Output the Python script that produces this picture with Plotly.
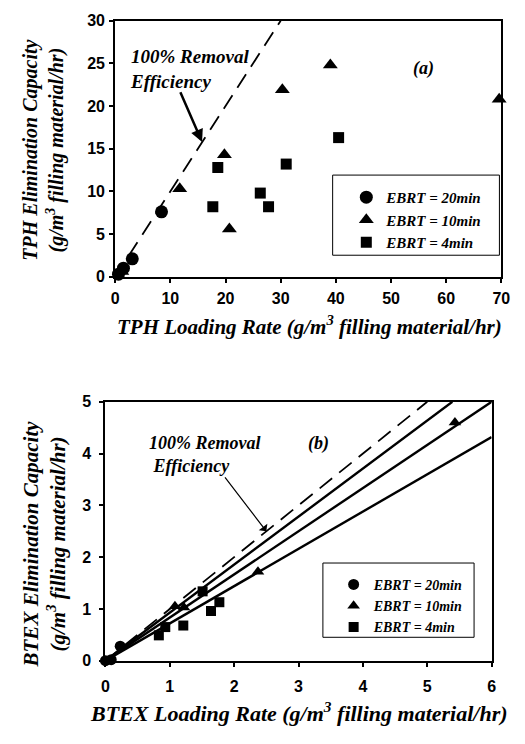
import plotly.graph_objects as go

W, H = 525, 744

# ---------------- Data: panel (a) TPH ----------------
tph20_x = [0.6, 1.5, 3.1, 8.4]
tph20_y = [0.3, 1.0, 2.1, 7.6]
tph10_x = [1.2, 11.7, 19.8, 20.7, 30.3, 39.0, 69.6]
tph10_y = [0.6, 10.3, 14.3, 5.6, 21.9, 24.8, 20.8]
tph4_x = [17.7, 18.6, 26.3, 27.8, 31.0, 40.5]
tph4_y = [8.2, 12.8, 9.8, 8.2, 13.2, 16.3]
tph_ideal_x = [0, 30]
tph_ideal_y = [0, 30]

# ---------------- Data: panel (b) BTEX ----------------
btex20_x = [0.0, 0.09, 0.23]
btex20_y = [0.0, 0.02, 0.28]
btex10_x = [1.08, 1.22, 2.37, 5.43]
btex10_y = [1.05, 1.03, 1.72, 4.6]
btex4_x = [0.83, 0.93, 1.21, 1.51, 1.64, 1.77]
btex4_y = [0.49, 0.65, 0.68, 1.34, 0.96, 1.13]
btex_ideal_x = [0, 5]
btex_ideal_y = [0, 5]
btex_fit20_x = [0, 5.39]
btex_fit20_y = [0, 5.0]
btex_fit10_x = [0, 6.0]
btex_fit10_y = [0, 5.0]
btex_fit4_x = [0, 6.0]
btex_fit4_y = [0, 4.32]

legend_labels = ["EBRT = 20min", "EBRT = 10min", "EBRT = 4min"]
tph_xticks = [0, 10, 20, 30, 40, 50, 60, 70]
tph_yticks = [0, 5, 10, 15, 20, 25, 30]
btex_xticks = [0, 1, 2, 3, 4, 5, 6]
btex_yticks = [0, 1, 2, 3, 4, 5]

serif = "Liberation Serif, Times New Roman, serif"
sans = "Liberation Sans, Arial, sans-serif"

fig = go.Figure()

def px(p):
    return p / W

def py(p):
    return 1 - p / H

# panel (a)
fig.add_trace(go.Scatter(x=tph_ideal_x, y=tph_ideal_y, mode="lines",
                         line=dict(color="black", width=1.8, dash="16px,9px"),
                         showlegend=False, xaxis="x", yaxis="y"))
symbols = ["circle", "triangle-up", "square"]
for (xs, ys), sym, lab in zip([(tph20_x, tph20_y), (tph10_x, tph10_y), (tph4_x, tph4_y)], symbols, legend_labels):
    fig.add_trace(go.Scatter(x=xs, y=ys, mode="markers", name=lab,
                             marker=dict(symbol=sym, color="black", size=13 if sym != "square" else 11),
                             cliponaxis=False, xaxis="x", yaxis="y", legend="legend"))

# panel (b)
fig.add_trace(go.Scatter(x=btex_ideal_x, y=btex_ideal_y, mode="lines",
                         line=dict(color="black", width=1.8, dash="16px,9px"),
                         showlegend=False, xaxis="x2", yaxis="y2"))
for fx, fy in [(btex_fit20_x, btex_fit20_y), (btex_fit10_x, btex_fit10_y), (btex_fit4_x, btex_fit4_y)]:
    fig.add_trace(go.Scatter(x=fx, y=fy, mode="lines", line=dict(color="black", width=2.4),
                             showlegend=False, xaxis="x2", yaxis="y2"))
for (xs, ys), sym, lab in zip([(btex20_x, btex20_y), (btex10_x, btex10_y), (btex4_x, btex4_y)], symbols, legend_labels):
    fig.add_trace(go.Scatter(x=xs, y=ys, mode="markers", name=lab,
                             marker=dict(symbol=sym, color="black", size=11 if sym != "square" else 10),
                             cliponaxis=False, xaxis="x2", yaxis="y2", legend="legend2"))

def axis_common(standoff):
    return dict(showline=True, linecolor="black", linewidth=2, mirror=True,
                ticks="outside", ticklen=4, tickwidth=1.5, tickcolor="black",
                showgrid=False, zeroline=False, ticklabelstandoff=standoff,
                tickfont=dict(family=sans, size=16, color="black", weight="bold"))

fig.update_layout(
    width=W, height=H,
    margin=dict(l=0, r=0, t=0, b=0),
    paper_bgcolor="white", plot_bgcolor="white",
    xaxis=dict(domain=[px(114), px(510)], range=[0, 70], tickvals=tph_xticks, anchor="y", **axis_common(2)),
    yaxis=dict(domain=[py(275), py(13)], range=[0, 30], tickvals=tph_yticks, anchor="x", **axis_common(1)),
    xaxis2=dict(domain=[px(104), px(500)], range=[0, 6], tickvals=btex_xticks, anchor="y2", **axis_common(6)),
    yaxis2=dict(domain=[py(668), py(403)], range=[0, 5], tickvals=btex_yticks, anchor="x2", **axis_common(5)),
    legend=dict(x=px(351), y=py(177), xanchor="left", yanchor="top", bgcolor="rgba(0,0,0,0)",
                font=dict(family=serif, size=15, color="black", style="italic", weight="bold"),
                itemwidth=30, tracegroupgap=0),
    legend2=dict(x=px(338), y=py(574), xanchor="left", yanchor="top", bgcolor="rgba(0,0,0,0)",
                 font=dict(family=serif, size=14, color="black", style="italic", weight="bold"),
                 itemwidth=30, tracegroupgap=0),
    shapes=[
        dict(type="rect", xref="paper", yref="paper", x0=px(337), x1=px(508), y0=py(253), y1=py(171),
             line=dict(color="black", width=1)),
        dict(type="rect", xref="paper", yref="paper", x0=px(327), x1=px(482), y0=py(644), y1=py(568),
             line=dict(color="black", width=1)),
    ],
)

title_font = dict(family=serif, size=21, color="black", style="italic", weight="bold")
ytitle_font = dict(family=serif, size=20, color="black", style="italic", weight="bold")
ann_font = dict(family=serif, size=19, color="black", style="italic", weight="bold")

annotations = [
    # axis titles
    dict(xref="paper", yref="paper", x=px(313), y=py(325), text="TPH Loading Rate (g/m<sup>3</sup> filling material/hr)",
         showarrow=False, font=title_font, xanchor="center", yanchor="middle"),
    dict(xref="paper", yref="paper", x=px(41), y=py(145), text="TPH Elimination Capacity<br>(g/m<sup>3</sup> filling material/hr)",
         showarrow=False, font=ytitle_font, textangle=-90, xanchor="center", yanchor="middle"),
    dict(xref="paper", yref="paper", x=px(303), y=py(720), text="BTEX Loading Rate (g/m<sup>3</sup> filling material/hr)",
         showarrow=False, font=dict(title_font, size=22), xanchor="center", yanchor="middle"),
    dict(xref="paper", yref="paper", x=px(41), y=py(548), text="BTEX Elimination Capacity<br>(g/m<sup>3</sup> filling material/hr)",
         showarrow=False, font=dict(ytitle_font, size=21), textangle=-90, xanchor="center", yanchor="middle"),
    # panel labels
    dict(xref="x", yref="y", x=55.9, y=24.4, text="(a)", showarrow=False,
         font=dict(family=serif, size=18, color="black", style="italic", weight="bold")),
    dict(xref="x2", yref="y2", x=3.31, y=4.19, text="(b)", showarrow=False,
         font=dict(family=serif, size=18, color="black", style="italic", weight="bold")),
    # 100% removal efficiency labels
    dict(xref="x", yref="y", x=2.3, y=24.3, text="100% Removal<br>Efficiency", showarrow=False,
         font=ann_font, xanchor="left", yanchor="middle", align="left"),
    dict(xref="x", yref="y", x=15.75, y=15.8, ax=11.7, ay=21.8, axref="x", ayref="y", text="",
         showarrow=True, arrowhead=2, arrowsize=1, arrowwidth=2.5, arrowcolor="black"),
    dict(xref="x2", yref="y2", x=0.65, y=3.98, text="100% Removal<br> Efficiency", showarrow=False,
         font=dict(ann_font, size=18),
         xanchor="left", yanchor="middle", align="left"),
    dict(xref="x2", yref="y2", x=2.5, y=2.5, ax=1.84, ay=3.57, axref="x2", ayref="y2", text="",
         showarrow=True, arrowhead=1, arrowsize=1.5, arrowwidth=1.2, arrowcolor="black"),
]
fig.update_layout(annotations=annotations)

fig.write_html("out.html")
